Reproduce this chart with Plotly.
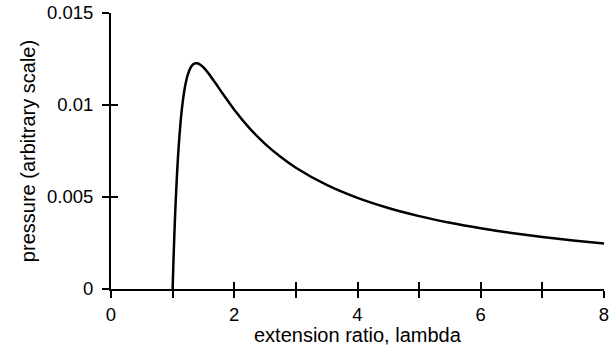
import plotly.graph_objects as go

# extension ratio (lambda) and pressure
lam = [1, 1.01, 1.02, 1.035, 1.05, 1.075, 1.1, 1.15, 1.2, 1.25, 1.3, 1.35, 1.4, 1.45,
       1.5, 1.6, 1.7, 1.8, 2, 2.25, 2.5, 2.75, 3, 3.5, 4, 4.5, 5, 5.5, 6, 6.5, 7, 7.5, 8]
pressure = [0, 0.001136, 0.002175, 0.003568, 0.004786, 0.006484, 0.00784, 0.009774,
            0.010974, 0.011688, 0.012075, 0.012243, 0.012265, 0.012186, 0.012041,
            0.011637, 0.011164, 0.010677, 0.009745, 0.008732, 0.007887, 0.007183,
            0.006591, 0.005654, 0.004949, 0.0044, 0.003959, 0.0036, 0.0033, 0.003046,
            0.002828, 0.00264, 0.002475]

x_tickvals = [0, 1, 2, 3, 4, 5, 6, 7, 8]
x_ticktext = ["0", "", "2", "", "4", "", "6", "", "8"]
y_tickvals = [0, 0.005, 0.01, 0.015]
y_ticktext = ["0", "0.005", "0.01", "0.015"]
x_title = "extension ratio, lambda"
y_title = "pressure (arbitrary scale)"

FONT = "Liberation Sans, Arial, Helvetica, sans-serif"

fig = go.Figure()
fig.add_trace(go.Scatter(x=lam, y=pressure, mode="lines",
                         line=dict(color="black", width=2.5, shape="spline", smoothing=0.6),
                         showlegend=False, hoverinfo="skip", cliponaxis=False))
# invisible trace on the overlay axes so they render
fig.add_trace(go.Scatter(x=[None], y=[None], xaxis="x2", yaxis="y2",
                         showlegend=False, hoverinfo="skip"))

common = dict(showgrid=False, zeroline=False, showline=True, linecolor="black",
              linewidth=2, tickcolor="black", tickwidth=2, ticklen=7, automargin=False)

fig.update_layout(
    width=615, height=363,
    margin=dict(l=111, r=11, t=13, b=74, autoexpand=False),
    paper_bgcolor="white", plot_bgcolor="white",
    font=dict(family=FONT, size=18.5, color="black"),
    xaxis=dict(range=[0, 8], tickmode="array", tickvals=x_tickvals, ticktext=x_ticktext,
               ticks="outside", ticklabelstandoff=1, **common),
    yaxis=dict(range=[0, 0.015], tickmode="array", tickvals=y_tickvals, ticktext=y_ticktext,
               ticks="outside", ticklabelstandoff=5,
               title=dict(text=y_title, standoff=6, font=dict(size=20)), **common),
    xaxis2=dict(range=[0, 8], overlaying="x", tickmode="array", tickvals=x_tickvals,
                ticks="inside", showticklabels=False, anchor="y", **common),
    yaxis2=dict(range=[0, 0.015], overlaying="y", tickmode="array", tickvals=y_tickvals,
                ticks="inside", showticklabels=False, anchor="x", **common),
    annotations=[dict(text=x_title, xref="paper", yref="paper", x=0.5, y=-0.168,
                      xanchor="center", yanchor="middle", showarrow=False,
                      font=dict(size=20))],
)

fig.write_html("out.html", config={"displayModeBar": False},
               post_script="document.body.style.margin='0';")
